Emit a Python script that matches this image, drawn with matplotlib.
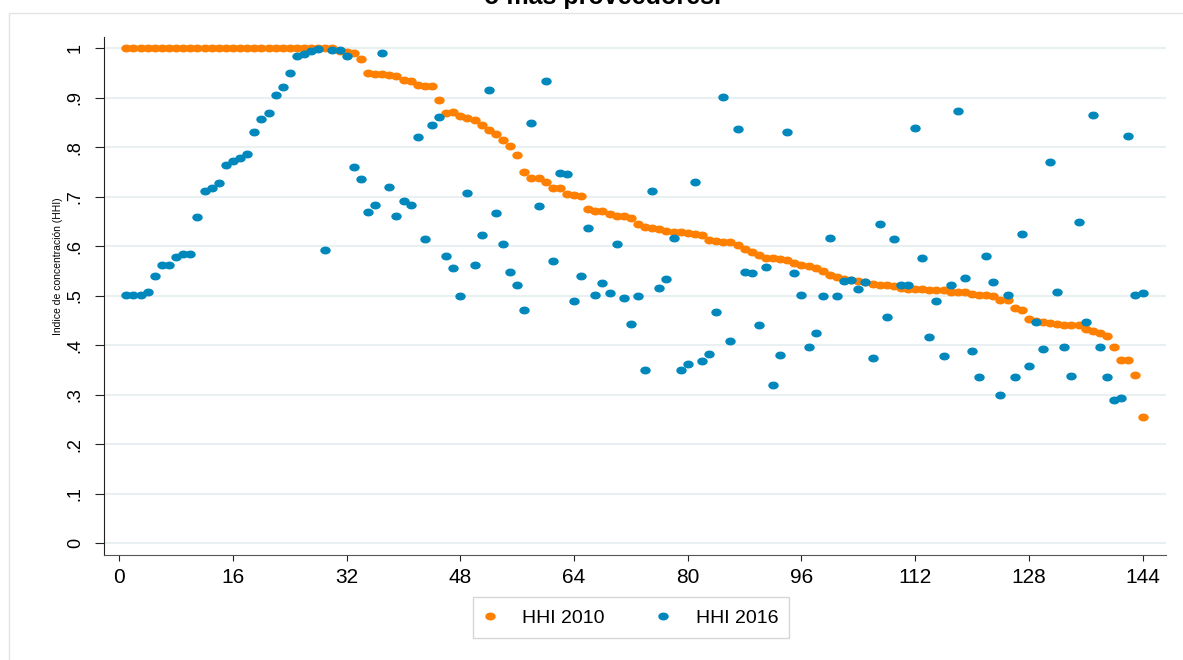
import numpy as np
import matplotlib
matplotlib.use("Agg")
import matplotlib.pyplot as plt
from matplotlib.path import Path
from matplotlib.patches import Rectangle

plt.rcParams['font.family'] = ['Liberation Sans', 'DejaVu Sans']

# HHI per provider, ordered by HHI 2010 (descending)
hhi_2010 = [1.0] * 30 + [
    .995, .993, .991, .978, .951, .949, .949, .947, .945, .936,
    .935, .927, .924, .924, .896, .870, .871, .863, .859, .855,
    .846, .836, .827, .815, .803, .785, .750, .739, .738, .730,
    .718, .718, .705, .703, .701, .675, .672, .671, .665, .661,
    .661, .658, .645, .639, .638, .636, .632, .630, .630, .626,
    .625, .622, .613, .610, .609, .608, .603, .595, .589, .583,
    .577, .576, .575, .572, .566, .562, .561, .557, .551, .542,
    .539, .535, .533, .531, .527, .524, .521, .521, .519, .516,
    .514, .513, .513, .512, .511, .511, .508, .507, .507, .504,
    .502, .502, .500, .491, .491, .476, .471, .453, .449, .448,
    .445, .444, .442, .442, .442, .434, .429, .424, .419, .396,
    .370, .370, .341, .255]

hhi_2016 = [
    .502, .502, .502, .508, .540, .562, .562, .578, .584, .584,
    .659, .712, .718, .728, .764, .772, .778, .787, .832, .857,
    .870, .906, .922, .951, .985, .988, .995, .999, .593, .996,
    .996, .985, .760, .737, .669, .683, .990, .720, .661, .692,
    .683, .821, .615, .845, .861, .580, .556, .499, .708, .562,
    .622, .916, .667, .605, .549, .521, .471, .850, .682, .934,
    .571, .748, .746, .489, .541, .637, .501, .525, .506, .605,
    .495, .444, .500, .351, .712, .516, .535, .616, .350, .362,
    .730, .368, .383, .467, .902, .408, .837, .549, .547, .441,
    .558, .319, .380, .832, .547, .501, .397, .425, .500, .617,
    .500, .531, .533, .513, .528, .374, .646, .457, .614, .522,
    .521, .840, .577, .417, .490, .378, .522, .873, .536, .389,
    .337, .580, .527, .300, .502, .336, .624, .358, .448, .392,
    .770, .508, .396, .338, .649, .448, .865, .396, .337, .290,
    .294, .823, .502, .506]

x_ticks = list(range(0, 145, 16))
y_ticks = [0, .1, .2, .3, .4, .5, .6, .7, .8, .9, 1]
y_labels = ['0', '.1', '.2', '.3', '.4', '.5', '.6', '.7', '.8', '.9', '1']

x = np.arange(1, len(hhi_2010) + 1)

# slightly flattened dot, like the reference
t = np.linspace(0, 2 * np.pi, 40)
dot = Path(np.column_stack([np.cos(t), 0.72 * np.sin(t)]), closed=True)

orange = '#ff8000'
blue = '#0088bd'

fig = plt.figure(figsize=(11.83, 6.6), dpi=100)
fig.patches.append(Rectangle((9 / 1183, -0.1), 1.2, 1 - 13 / 660 + 0.1,
                             transform=fig.transFigure, fill=False,
                             edgecolor='#e4e4e4', linewidth=1))

ax = fig.add_axes([104 / 1183, 105 / 660, 1062 / 1183, 518 / 660])
ax.plot(x, hhi_2010, linestyle='none', marker=dot, markersize=6.5,
        color=orange, label='HHI 2010')
ax.plot(x, hhi_2016, linestyle='none', marker=dot, markersize=6.5,
        color=blue, label='HHI 2016')

ax.set_xlim(-2.15, 147.3)
ax.set_ylim(-0.0236, 1.023)
ax.set_xticks(x_ticks)
ax.set_yticks(y_ticks)
ax.set_yticklabels(y_labels, rotation=90, va='center')
ax.grid(axis='y', color='#e9f0f2', linewidth=1.5)
ax.set_axisbelow(True)
for s in ['top', 'right']:
    ax.spines[s].set_visible(False)
ax.spines['left'].set_color('#222222')
ax.spines['bottom'].set_color('#555555')
ax.tick_params(axis='x', labelsize=15, length=4.5, pad=5, color='#222222')
ax.tick_params(axis='y', labelsize=13, length=6.5, pad=8, color='#222222')
ax.set_ylabel('Indice de concentración (HHI)', fontsize=7.5)
ax.yaxis.set_label_coords(-0.039, 0.558)

fig.text(0.509, 1 - 4 / 660, 'o más proveedores.', ha='center',
         va='baseline', fontsize=18, fontweight='bold')

fig.legend(loc='center', bbox_to_anchor=(631 / 1183, 1 - 617.5 / 660),
           ncol=2, fontsize=14, frameon=True, fancybox=False,
           edgecolor='#cccccc', handlelength=0.6, handleheight=1.1,
           handletextpad=1.35, columnspacing=2.74, borderpad=0.55,
           markerscale=1.0)

fig.savefig('out.png', dpi=100, facecolor='white')
